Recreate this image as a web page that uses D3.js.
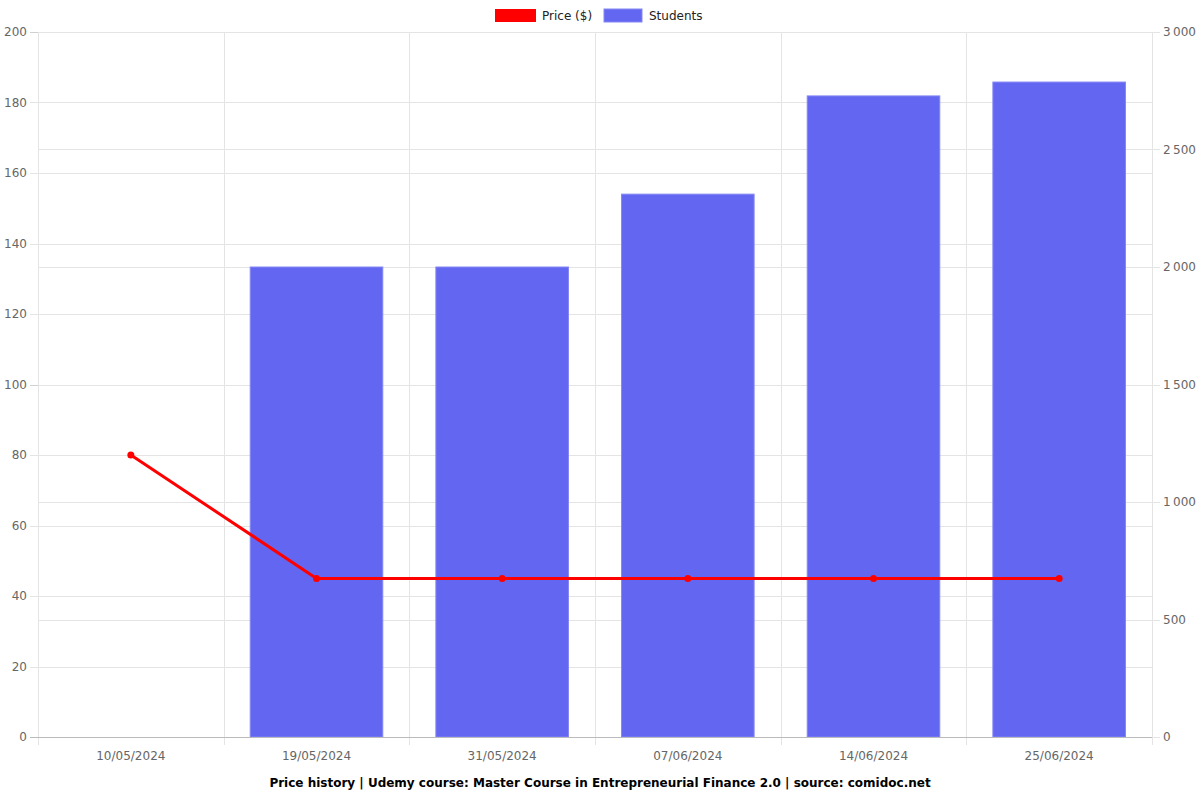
<!DOCTYPE html>
<html lang="en">
<head>
<meta charset="UTF-8">
<script src="https://cdn.jsdelivr.net/npm/d3@7/dist/d3.min.js"></script>
<title>Price history</title>
<style>
  body { margin: 0; background: #fff; }
  text { font-family: "DejaVu Sans", sans-serif; }
</style>
</head>
<body>
<script>
var dates = ["10/05/2024", "19/05/2024", "31/05/2024", "07/06/2024", "14/06/2024", "25/06/2024"];
var prices = [80, 45, 45, 45, 45, 45];
var students = [0, 2000, 2000, 2310, 2728, 2787];
var priceTicks = [0, 20, 40, 60, 80, 100, 120, 140, 160, 180, 200];
var studentTicks = [0, 500, 1000, 1500, 2000, 2500, 3000];

var width = 1200, height = 800;
var plotLeft = 38, plotRight = 1152, plotTop = 32, plotBottom = 737;

var svg = d3.select("body").append("svg").attr("width", width).attr("height", height);

var x = d3.scaleBand().domain(dates).range([plotLeft, plotRight]);
var yP = d3.scaleLinear().domain([0, 200]).range([plotBottom, plotTop]);
var yS = d3.scaleLinear().domain([0, 3000]).range([plotBottom, plotTop]);

// grid lines
svg.append("g").selectAll("line").data(priceTicks).enter().append("line")
  .attr("x1", plotLeft - 8).attr("x2", plotRight)
  .attr("y1", function (d) { return Math.round(yP(d)) + 0.5; })
  .attr("y2", function (d) { return Math.round(yP(d)) + 0.5; })
  .style("stroke", function (d) { return d === 0 ? "#bbb" : (d === 200 || d === 100 ? "#d0d0d0" : "#e4e4e4"); });
svg.append("g").selectAll("line").data(studentTicks).enter().append("line")
  .attr("x1", plotLeft).attr("x2", plotRight + 8)
  .attr("y1", function (d) { return Math.round(yS(d)) + 0.5; })
  .attr("y2", function (d) { return Math.round(yS(d)) + 0.5; })
  .style("stroke", "#e4e4e4");
var bounds = dates.map(function (d) { return x(d); }).concat([plotRight]);
svg.append("g").selectAll("line").data(bounds).enter().append("line")
  .attr("x1", function (d) { return Math.round(d) + 0.5; })
  .attr("x2", function (d) { return Math.round(d) + 0.5; })
  .attr("y1", plotTop).attr("y2", plotBottom + 8)
  .style("stroke", "#e4e4e4");

// bars
var bw = x.bandwidth() * 0.714;
svg.append("g").selectAll("rect").data(students).enter().append("rect")
  .attr("x", function (d, i) { return x(dates[i]) + (x.bandwidth() - bw) / 2; })
  .attr("width", bw)
  .attr("y", function (d) { return yS(d); })
  .attr("height", function (d) { return plotBottom - yS(d); })
  .style("fill", "#6366f1")
  .style("stroke", "#8487f4")
  .style("stroke-width", 1)
  .style("display", function (d) { return d > 0 ? null : "none"; });

// price line
var line = d3.line()
  .x(function (d, i) { return x(dates[i]) + x.bandwidth() / 2; })
  .y(function (d) { return yP(d); });
svg.append("path").datum(prices).attr("d", line)
  .style("fill", "none").style("stroke", "#ff0000").style("stroke-width", 3);
svg.append("g").selectAll("circle").data(prices).enter().append("circle")
  .attr("cx", function (d, i) { return x(dates[i]) + x.bandwidth() / 2; })
  .attr("cy", function (d) { return yP(d); })
  .attr("r", 3.5).style("fill", "#ff0000");

// axis frame lines
svg.append("line").attr("x1", plotLeft + 0.5).attr("x2", plotLeft + 0.5).attr("y1", plotTop).attr("y2", plotBottom + 8).style("stroke", "#e4e4e4");
svg.append("line").attr("x1", plotRight + 0.5).attr("x2", plotRight + 0.5).attr("y1", plotTop).attr("y2", plotBottom + 8).style("stroke", "#e4e4e4");
svg.append("line").attr("x1", plotLeft).attr("x2", plotRight).attr("y1", plotBottom + 0.5).attr("y2", plotBottom + 0.5).style("stroke", "#bbb");

// tick labels
svg.append("g").selectAll("text").data(priceTicks).enter().append("text")
  .attr("x", plotLeft - 11).attr("y", function (d) { return yP(d) + 4; })
  .attr("text-anchor", "end").style("font-size", "12px").style("fill", "#666")
  .text(function (d) { return d; });
svg.append("g").selectAll("text").data(studentTicks).enter().append("text")
  .attr("x", plotRight + 11).attr("y", function (d) { return yS(d) + 4; })
  .attr("text-anchor", "start").style("font-size", "12px").style("fill", "#666")
  .text(function (d) { return d3.format(",")(d).replace(",", "\u2009"); });
svg.append("g").selectAll("text").data(dates).enter().append("text")
  .attr("x", function (d) { return x(d) + x.bandwidth() / 2; }).attr("y", 760)
  .attr("text-anchor", "middle").style("font-size", "12px").style("fill", "#666")
  .text(function (d) { return d; });

// title
svg.append("text").attr("x", width / 2).attr("y", 787).attr("text-anchor", "middle")
  .style("font-size", "12px").style("font-weight", "bold").style("fill", "#000")
  .text("Price history | Udemy course: Master Course in Entrepreneurial Finance 2.0 | source: comidoc.net");

// legend
var legend = svg.append("g");
legend.append("rect").attr("x", 495).attr("y", 9).attr("width", 41).attr("height", 13).style("fill", "#ff0000");
legend.append("text").attr("x", 542).attr("y", 20).style("font-size", "12px").style("fill", "#222").text("Price ($)");
legend.append("rect").attr("x", 604).attr("y", 9).attr("width", 38).attr("height", 13).style("fill", "#6366f1").style("stroke", "#8487f4");
legend.append("text").attr("x", 649).attr("y", 20).style("font-size", "12px").style("fill", "#222").text("Students");
</script>
</body>
</html>
